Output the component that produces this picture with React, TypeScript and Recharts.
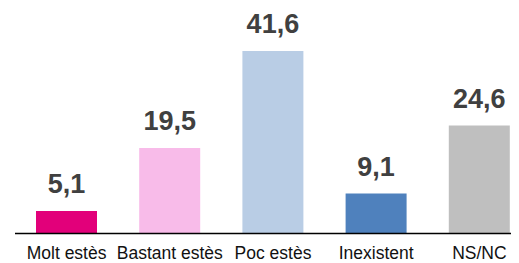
import React from 'react';
import { BarChart, Bar, XAxis, YAxis, Cell, LabelList } from 'recharts';

const categories = ['Molt estès', 'Bastant estès', 'Poc estès', 'Inexistent', 'NS/NC'];
const values = [5.1, 19.5, 41.6, 9.1, 24.6];
const colors = ['#E2007A', '#F8BBE9', '#B9CDE5', '#4F81BD', '#BFBFBF'];

const data = categories.map((c, i) => ({ name: c, value: values[i] }));

const fmt = (v: any) => String(v).replace('.', ',');

export default function App() {
  return (
    <div style={{ width: 511, height: 255, overflow: 'hidden' }}>
      <BarChart
        width={523}
        height={255}
        data={data}
        margin={{ top: 6, right: 0, bottom: 0, left: 7 }}
        barSize={61}
      >
        <YAxis hide domain={[0, 50]} />
        <XAxis
          dataKey="name"
          height={29.5}
          tickLine={false}
          tickSize={6}
          tickMargin={7}
          axisLine={{ stroke: '#000', strokeWidth: 1.6 }}
          tick={{ fill: '#111', fontSize: 17.5, fontFamily: 'Liberation Sans, Arial, sans-serif' }}
          interval={0}
        />
        <Bar dataKey="value" isAnimationActive={false}>
          {data.map((d, i) => (
            <Cell key={d.name} fill={colors[i]} />
          ))}
          <LabelList
            dataKey="value"
            position="top"
            offset={18}
            formatter={fmt}
            style={{ fill: '#404040', fontSize: 27, fontWeight: 'bold', fontFamily: 'Liberation Sans, Arial, sans-serif' }}
          />
        </Bar>
      </BarChart>
    </div>
  );
}
